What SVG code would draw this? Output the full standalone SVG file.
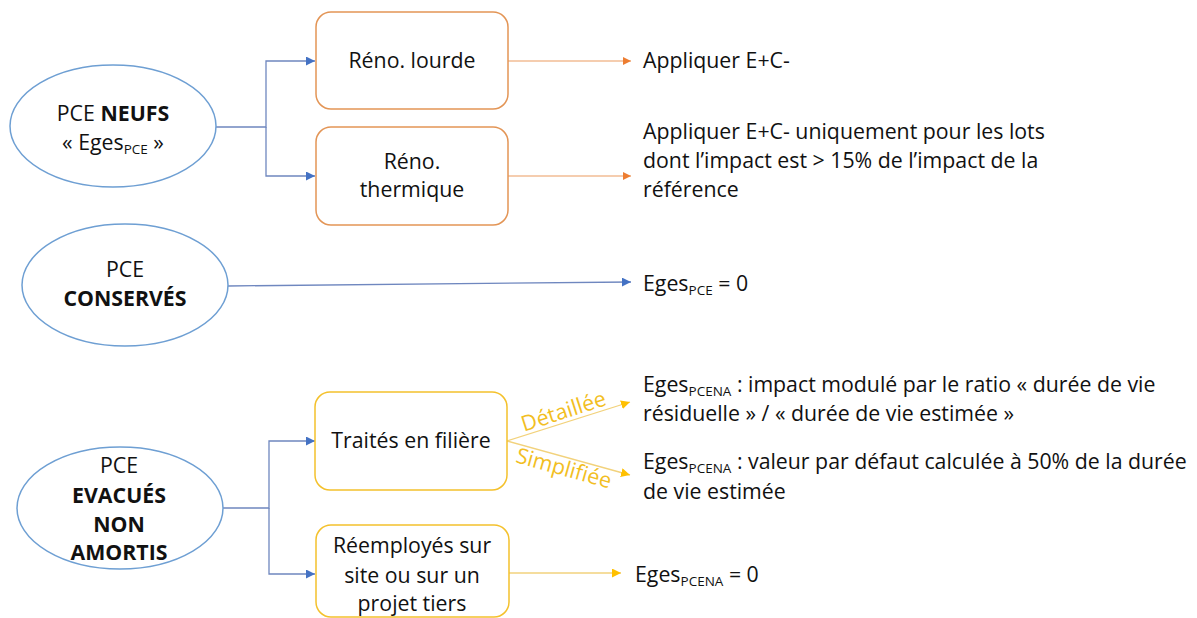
<svg xmlns="http://www.w3.org/2000/svg" width="1197" height="618" viewBox="0 0 1197 618">
<style>
text{font-family:"Open Sans","Noto Sans","Liberation Sans",sans-serif;font-size:21.3px;fill:#111}
.c{text-anchor:middle}
.b{font-weight:bold}
.sub{font-size:13.5px}
.ell{fill:#fff;stroke:#6E9FD3;stroke-width:1.5}
.ob{fill:#fff;stroke:#E39556;stroke-width:1.5}
.yb{fill:#fff;stroke:#F4C12C;stroke-width:1.5}
.bl{fill:none;stroke:#6F87BF;stroke-width:1.3}
.ol{fill:none;stroke:#F2BC95;stroke-width:1.3}
.yl{fill:none;stroke:#F2D27C;stroke-width:1.3}
.lab{fill:#F2BE22;font-size:21.5px}
</style>
<defs>
<marker id="ab" viewBox="0 0 10 10" refX="10" refY="5" markerWidth="9" markerHeight="9" markerUnits="userSpaceOnUse" orient="auto"><path d="M0,0L10,5L0,10z" fill="#4472C4"/></marker>
<marker id="ao" viewBox="0 0 10 10" refX="10" refY="5" markerWidth="8" markerHeight="8" markerUnits="userSpaceOnUse" orient="auto"><path d="M0,0L10,5L0,10z" fill="#ED7D31"/></marker>
<marker id="ay" viewBox="0 0 10 10" refX="10" refY="5" markerWidth="9" markerHeight="9" markerUnits="userSpaceOnUse" orient="auto"><path d="M0,0L10,5L0,10z" fill="#FFC000"/></marker>
</defs>
<g id="connectors">
<path class="bl" d="M216,127H266V61H315" marker-end="url(#ab)"/>
<path class="bl" d="M266,127V176H315" marker-end="url(#ab)"/>
<path class="ol" d="M508,61H631" marker-end="url(#ao)"/>
<path class="ol" d="M508,176H631" marker-end="url(#ao)"/>
<path class="bl" d="M228,286L631,282" marker-end="url(#ab)"/>
<path class="bl" d="M223,508H269V441H315" marker-end="url(#ab)"/>
<path class="bl" d="M269,508V574H315" marker-end="url(#ab)"/>
<path class="yl" d="M507,441L630,402" marker-end="url(#ay)"/>
<path class="yl" d="M507,441L630,475" marker-end="url(#ay)"/>
<path class="yl" d="M509,573H621" marker-end="url(#ay)"/>
<text class="lab c" transform="translate(567,422) rotate(-17.9)" y="-4">Détaillée</text>
<text class="lab c" transform="translate(567,457) rotate(15.7)" y="19">Simplifiée</text>
</g>
<g id="neufs">
<ellipse class="ell" cx="113" cy="126" rx="103" ry="61"/>
<text class="c" x="113" y="121">PCE <tspan class="b">NEUFS</tspan></text>
<text class="c" x="113" y="150">« Eges<tspan class="sub" dy="4">PCE</tspan><tspan dy="-4"> »</tspan></text>
</g>
<g id="reno-lourde">
<rect class="ob" x="316" y="12" width="192" height="97" rx="15"/>
<text class="c" x="412" y="68">Réno. lourde</text>
</g>
<g id="reno-thermique">
<rect class="ob" x="316" y="127" width="192" height="98" rx="15"/>
<text class="c" x="412" y="169">Réno.</text>
<text class="c" x="412" y="197">thermique</text>
</g>
<g id="res-lourde">
<text x="643" y="68">Appliquer E+C-</text>
</g>
<g id="res-thermique">
<text x="643" y="139">Appliquer E+C- uniquement pour les lots</text>
<text x="643" y="168">dont l’impact est &gt; 15% de l’impact de la</text>
<text x="643" y="197">référence</text>
</g>
<g id="conserves">
<ellipse class="ell" cx="125" cy="285" rx="103" ry="61"/>
<text class="c" x="125" y="277">PCE</text>
<text class="c b" x="125" y="306">CONSERVÉS</text>
</g>
<g id="res-conserves">
<text x="643" y="291">Eges<tspan class="sub" dy="4">PCE</tspan><tspan dy="-4"> = 0</tspan></text>
</g>
<g id="evacues">
<ellipse class="ell" cx="120" cy="508" rx="103" ry="61"/>
<text class="c" x="119" y="473">PCE</text>
<text class="c b" x="119" y="503">EVACUÉS</text>
<text class="c b" x="119" y="532">NON</text>
<text class="c b" x="119" y="560">AMORTIS</text>
</g>
<g id="traites">
<rect class="yb" x="315" y="392" width="192" height="98" rx="15"/>
<text class="c" x="411" y="448">Traités en filière</text>
</g>
<g id="reemployes">
<rect class="yb" x="316" y="525" width="193" height="92" rx="15"/>
<text class="c" x="412" y="553">Réemployés sur</text>
<text class="c" x="412" y="583">site ou sur un</text>
<text class="c" x="412" y="611">projet tiers</text>
</g>
<g id="res-detaillee">
<text x="643" y="392">Eges<tspan class="sub" dy="4">PCENA</tspan><tspan dy="-4"> : impact modulé par le ratio « durée de vie</tspan></text>
<text x="643" y="421">résiduelle » / « durée de vie estimée »</text>
</g>
<g id="res-simplifiee">
<text x="643" y="469">Eges<tspan class="sub" dy="4">PCENA</tspan><tspan dy="-4"> : valeur par défaut calculée à 50% de la durée</tspan></text>
<text x="643" y="499">de vie estimée</text>
</g>
<g id="res-reemployes">
<text x="635" y="582">Eges<tspan class="sub" dy="4">PCENA</tspan><tspan dy="-4"> = 0</tspan></text>
</g>
</svg>
